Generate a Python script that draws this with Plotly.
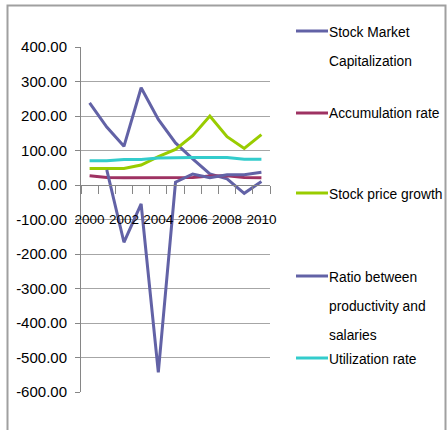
import plotly.graph_objects as go

# Years on the category axis and the five indicators
years = [str(y) for y in range(2000, 2011)]
year_labels = [y if int(y) % 2 == 0 else "" for y in years]

stock_market_cap = [238, 168, 112, 282, 190, 122, 76, 32, 18, -24, 10]
accumulation_rate = [27, 22, 21, 21, 21, 21, 22, 26, 27, 22, 21]
stock_price_growth = [48, 48, 48, 58, 82, 103, 143, 200, 140, 106, 146]
productivity_salary_ratio = [None, 44, -166, -55, -543, 8, 32, 21, 30, 30, 37]
utilization_rate = [70, 70, 74, 74, 78, 80, 80, 80, 80, 75, 75]

series_names = [
    "Stock Market<br>Capitalization",
    "Accumulation rate",
    "Stock price growth",
    "Ratio between<br>productivity and<br>salaries",
    "Utilization rate",
]
series_values = [
    stock_market_cap,
    accumulation_rate,
    stock_price_growth,
    productivity_salary_ratio,
    utilization_rate,
]
series_colors = ["#6262A6", "#9E3262", "#99CC00", "#6262A6", "#33CCCC"]

y_ticks = list(range(-600, 401, 100))

FONT = "Liberation Sans, Arial, sans-serif"
W, H = 447, 430
ML, MR, MT, MB = 81, 177, 47, 38
PW, PH = W - ML - MR, H - MT - MB


def px_x(x):
    return (x - ML) / PW


def px_y(y):
    return (H - MB - y) / PH


fig = go.Figure()
for name, vals, col in zip(series_names, series_values, series_colors):
    fig.add_trace(go.Scatter(
        x=years, y=vals, mode="lines", name=name.replace("<br>", " "),
        line=dict(color=col, width=3), showlegend=False,
    ))

# Legend drawn on the right: sample line plus (possibly wrapped) text
legend_rows = [31, 113, 193, 276, 358]
line_gap = 29
shapes = []
annotations = []
for name, col, ry in zip(series_names, series_colors, legend_rows):
    shapes.append(dict(type="line", xref="paper", yref="paper",
                       x0=px_x(296), x1=px_x(328), y0=px_y(ry), y1=px_y(ry),
                       line=dict(color=col, width=3)))
    for k, part in enumerate(name.split("<br>")):
        annotations.append(dict(
            text=part, xref="paper", yref="paper", x=px_x(327),
            y=px_y(ry + 1 + k * line_gap), xanchor="left", yanchor="middle",
            showarrow=False, font=dict(family=FONT, size=13.8, color="#000000"),
        ))

# Outer chart frame
shapes.append(dict(type="rect", xref="paper", yref="paper",
                   x0=px_x(7.5), x1=px_x(445.5), y0=px_y(440), y1=px_y(5.5),
                   line=dict(color="#A0A0A0", width=2), layer="below"))

fig.update_layout(
    width=W, height=H,
    margin=dict(l=ML, r=MR, t=MT, b=MB),
    paper_bgcolor="white", plot_bgcolor="white",
    shapes=shapes, annotations=annotations,
    xaxis=dict(
        type="category", categoryorder="array", categoryarray=years,
        tickmode="array", tickvals=years, ticktext=year_labels,
        tickson="boundaries", ticks="outside", ticklen=8, tickcolor="#868686",
        showline=True, linecolor="#868686", linewidth=1,
        showgrid=False, zeroline=False, tickangle=0,
        anchor="free", position=0.6, ticklabelstandoff=22,
        tickfont=dict(family=FONT, size=13.5, color="#000000"),
        range=[-0.5, 10.5],
    ),
    yaxis=dict(
        range=[-600, 400], tickvals=y_ticks,
        ticktext=[f"{v:.2f}" for v in y_ticks],
        ticks="outside", ticklen=5, tickcolor="#868686",
        showline=True, linecolor="#868686", linewidth=1,
        showgrid=True, gridcolor="#A6A6A6", gridwidth=1, zeroline=False,
        ticklabelstandoff=5,
        tickfont=dict(family=FONT, size=15, color="#000000"),
    ),
)

fig.write_html("out.html")
